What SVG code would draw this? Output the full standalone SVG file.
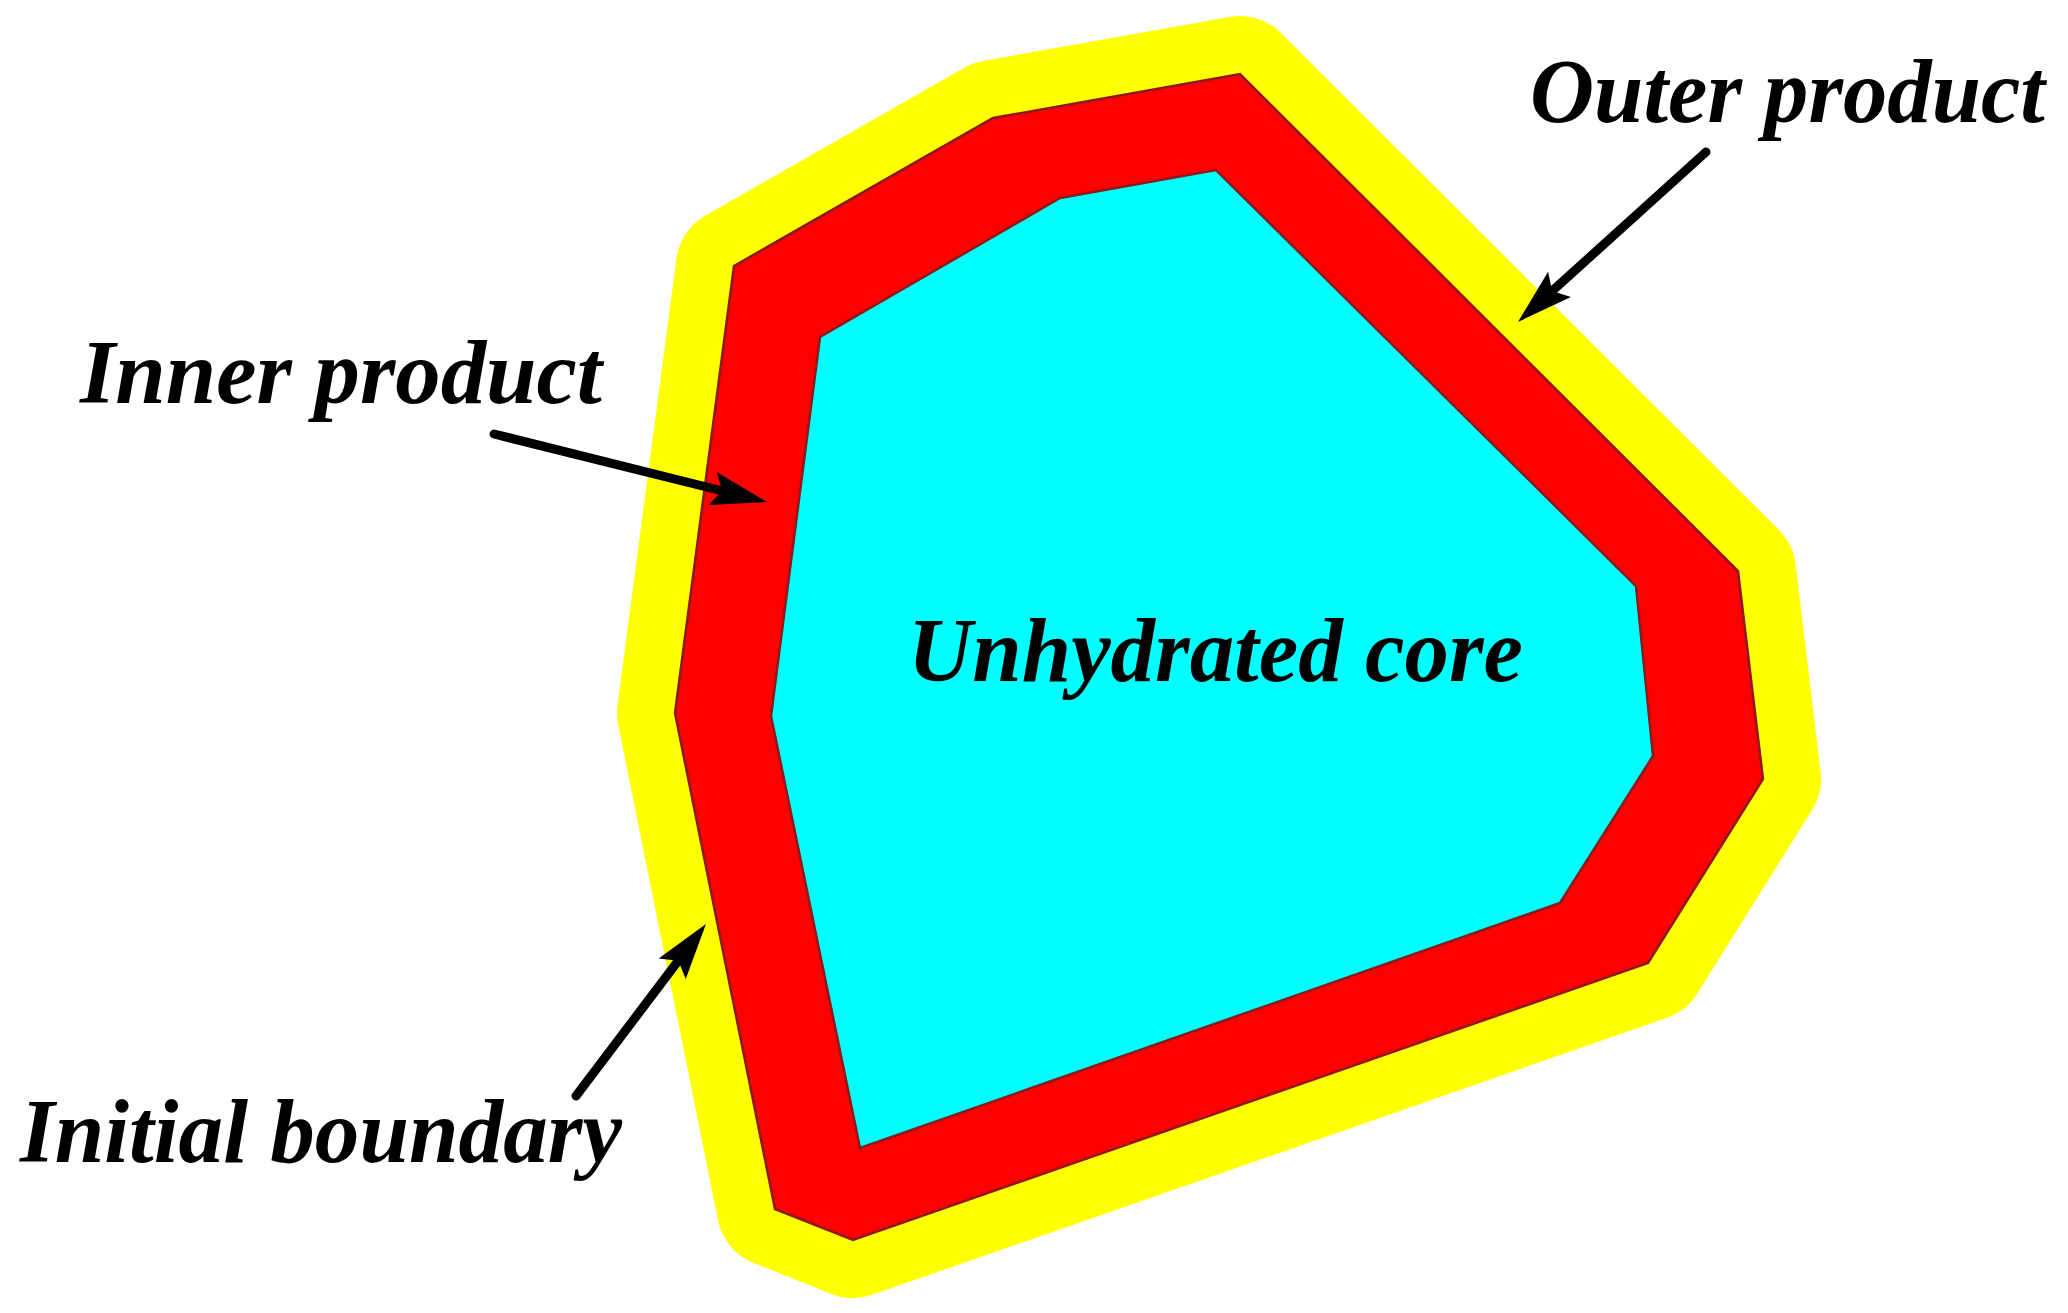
<svg xmlns="http://www.w3.org/2000/svg" width="2068" height="1313" viewBox="0 0 2068 1313">
  <style>
    .lbl { font-family: "Liberation Serif", "Times New Roman", serif; font-weight: bold; font-style: italic; font-size: 90px; fill: #000000; }
    .conn { stroke: #000000; stroke-width: 9; fill: none; stroke-linecap: round; }
    .edge { stroke: #8b1a1a; stroke-width: 2.5; stroke-linejoin: miter; }
  </style>
  <defs>
    <marker id="arrow" markerUnits="userSpaceOnUse" markerWidth="58" markerHeight="40" refX="31" refY="20" orient="auto" overflow="visible">
      <path d="M0,3 L56,20 L0,37 L10,20 z" fill="#000000"/>
    </marker>
  </defs>
  <rect x="0" y="0" width="2068" height="1313" fill="#ffffff"/>

  <g id="outer-product-layer">
    <polygon points="734,266 993,118 1240,74 1738,571 1763,779 1648,963 853,1240 775,1209 675,713" fill="#ffff00" stroke="#ffff00" stroke-width="116" stroke-linejoin="round"/>
  </g>
  <g id="inner-product-layer">
    <polygon class="edge" points="734,266 993,118 1240,74 1738,571 1763,779 1648,963 853,1240 775,1209 675,713" fill="#ff0000"/>
  </g>
  <g id="unhydrated-core">
    <polygon class="edge" points="820,337 1060,198 1216,170 1636,586 1653,756 1560,903 860,1148 771,716" fill="#00ffff"/>
    <text class="lbl" x="908" y="681" textLength="615" lengthAdjust="spacingAndGlyphs">Unhydrated core</text>
  </g>

  <g id="label-inner-product">
    <text class="lbl" x="80" y="403" textLength="522" lengthAdjust="spacingAndGlyphs">Inner product</text>
  </g>
  <g id="label-outer-product">
    <text class="lbl" x="1530" y="122" textLength="515" lengthAdjust="spacingAndGlyphs">Outer product</text>
  </g>
  <g id="label-initial-boundary">
    <text class="lbl" x="20" y="1162" textLength="602" lengthAdjust="spacingAndGlyphs">Initial boundary</text>
  </g>

  <g id="connectors">
    <line class="conn" x1="494" y1="434" x2="742.7" y2="496" marker-end="url(#arrow)"/>
    <line class="conn" x1="1706" y1="152" x2="1536.5" y2="305.2" marker-end="url(#arrow)"/>
    <line class="conn" x1="576" y1="1096" x2="690.9" y2="944" marker-end="url(#arrow)"/>
  </g>
</svg>
